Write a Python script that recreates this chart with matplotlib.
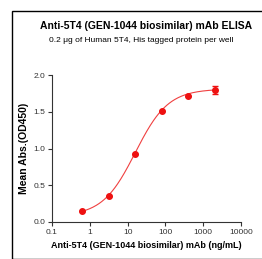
import numpy as np
import matplotlib.pyplot as plt
from matplotlib.patches import Rectangle

plt.rcParams['font.family'] = ['Liberation Sans', 'DejaVu Sans']

# measured points (ng/mL, OD450)
conc = [0.64, 3.2, 16, 80, 400, 2000]
od = [0.144, 0.358, 0.925, 1.505, 1.71, 1.79]
err = [0.0, 0.0, 0.0, 0.0, 0.0, 0.055]

# 4PL fit parameters: bottom, top, EC50, hill
bottom, top, ec50, hill = 0.08, 1.81, 16.0, 1.0

fig = plt.figure(figsize=(2.62, 2.59), dpi=100)
fig.patches.append(Rectangle((12/262, 0), 1, 1 - 11/259, transform=fig.transFigure,
                             fill=False, edgecolor='black', linewidth=1.0))

ax = fig.add_axes([52/262, 1 - 222/259, 189/262, 147/259])

xs = np.logspace(np.log10(conc[0]), np.log10(conc[-1]), 200)
fit = bottom + (top - bottom) / (1 + (ec50 / xs) ** hill)
ax.plot(xs, fit, color='#f04040', linewidth=0.8)
ax.errorbar(conc, od, yerr=err, fmt='o', color='#ee1111', markersize=4,
            elinewidth=1, capsize=2, capthick=1)

ax.set_xscale('log')
ax.set_xlim(0.1, 10000)
ax.set_ylim(0, 2.0)
ax.set_xticks([0.1, 1, 10, 100, 1000, 10000])
ax.set_xticklabels(['0.1', '1', '10', '100', '1000', '10000'])
ax.set_yticks([0, 0.5, 1.0, 1.5, 2.0])
ax.set_yticklabels(['0.0', '0.5', '1.0', '1.5', '2.0'])
ax.minorticks_off()
for s in ['top', 'right']:
    ax.spines[s].set_visible(False)
for s in ['left', 'bottom']:
    ax.spines[s].set_color('#333333')
    ax.spines[s].set_linewidth(0.8)
ax.tick_params(labelsize=6, length=3, width=0.8, color='#333333',
               labelcolor='#333333', pad=2)

ax.set_xlabel('Anti-5T4 (GEN-1044 biosimilar) mAb (ng/mL)', fontsize=6.5,
              fontweight='bold', labelpad=4)
ax.set_ylabel('Mean Abs.(OD450)', fontsize=7.5, fontweight='bold', labelpad=3)

fig.text(146/262, 1 - 26/259, 'Anti-5T4 (GEN-1044 biosimilar) mAb ELISA',
         ha='center', va='center', fontsize=7.5, fontweight='bold')
fig.text(141/262, 1 - 41/259, '0.2 \u03bcg of Human 5T4, His tagged protein per well',
         ha='center', va='center', fontsize=6)

fig.savefig('out.png', dpi=100)
